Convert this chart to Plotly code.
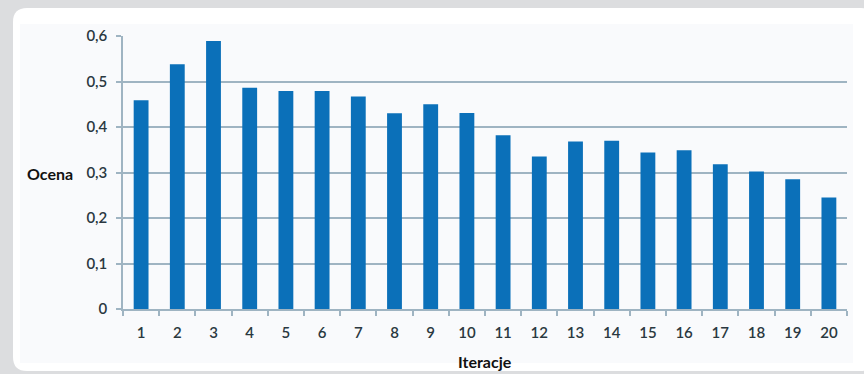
import plotly.graph_objects as go

iterations = [str(i) for i in range(1, 21)]
scores = [0.459, 0.538, 0.589, 0.486, 0.479, 0.479, 0.467, 0.430, 0.450, 0.431,
          0.382, 0.335, 0.368, 0.370, 0.344, 0.349, 0.318, 0.302, 0.285, 0.245]
y_tickvals = [0, 0.1, 0.2, 0.3, 0.4, 0.5, 0.6]
y_ticktext = ["0", "0,1", "0,2", "0,3", "0,4", "0,5", "0,6"]

W, H = 864, 374
L, R, T, B = 123, 17, 36, 65
PW, PH = W - L - R, H - T - B


def px(x):
    return (x - L) / PW


def py(y):
    return (H - B - y) / PH


def rrect(x0, y0, x1, y1, r):
    X0, X1 = px(x0), px(x1)
    Y0, Y1 = py(y0), py(y1)
    rx, ry = r / PW, r / PH
    return (f"M {X0+rx} {Y0} L {X1-rx} {Y0} Q {X1} {Y0} {X1} {Y0-ry} "
            f"L {X1} {Y1+ry} Q {X1} {Y1} {X1-rx} {Y1} "
            f"L {X0+rx} {Y1} Q {X0} {Y1} {X0} {Y1+ry} "
            f"L {X0} {Y0-ry} Q {X0} {Y0} {X0+rx} {Y0} Z")


fig = go.Figure(go.Bar(x=iterations, y=scores, marker_color="#0b70b9",
                       marker_line_width=0))

axis_col = "#9fb4c2"
font_fam = "Lato, 'Open Sans', sans-serif"
tick_font = dict(family=font_fam, size=15, color="#2a3840", weight=600)

fig.update_layout(
    width=W, height=H,
    margin=dict(l=L, r=R, t=T, b=B),
    paper_bgcolor="#dcdddf",
    plot_bgcolor="rgba(0,0,0,0)",
    bargap=0.59,
    showlegend=False,
    font=dict(family=font_fam, size=14, color="#3a3a3a"),
    shapes=[
        dict(type="path", xref="paper", yref="paper", path=rrect(13, 8, 875, 371, 14),
             fillcolor="#ffffff", line_width=0, layer="below"),
        dict(type="rect", xref="paper", yref="paper", x0=px(20), x1=px(853),
             y0=py(363), y1=py(24), fillcolor="#f9fafc", line_width=0, layer="below"),
    ],
    annotations=[
        dict(text="<b>Ocena</b>", xref="paper", yref="paper", x=px(75), y=py(173),
             xanchor="right", yanchor="middle", showarrow=False,
             font=dict(family=font_fam, size=16, color="#111111")),
        dict(text="<b>Iteracje</b>", xref="paper", yref="paper", x=px(485), y=py(361),
             xanchor="center", yanchor="middle", showarrow=False,
             font=dict(family=font_fam, size=16, color="#111111")),
    ],
)

fig.update_xaxes(
    type="category", showgrid=False, showline=True, linecolor=axis_col, linewidth=1.5,
    ticks="outside", tickson="boundaries", ticklen=5, tickcolor=axis_col, tickwidth=1.5,
    tickfont=tick_font, ticklabelstandoff=9, fixedrange=True,
)
fig.update_yaxes(
    range=[0, 0.6], tickvals=y_tickvals, ticktext=y_ticktext,
    showgrid=True, gridcolor=axis_col, gridwidth=1.5, zeroline=False,
    showline=True, linecolor=axis_col, linewidth=1.5,
    ticks="outside", ticklen=5, tickcolor=axis_col, tickwidth=1.5,
    tickfont=tick_font, ticklabelstandoff=6, fixedrange=True,
)

fig.write_html("out.html")
